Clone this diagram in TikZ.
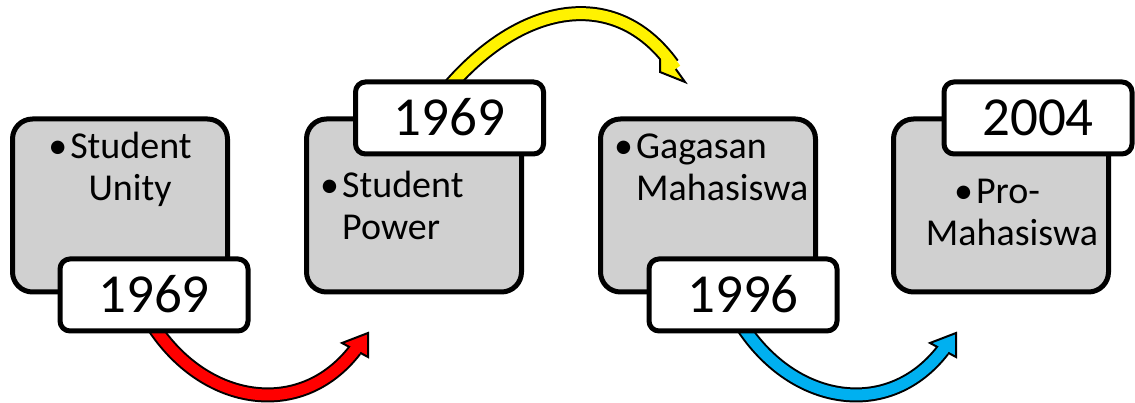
\documentclass[tikz,border=0pt]{standalone}
\usepackage{fontspec}
\setmainfont{Carlito}
\usetikzlibrary{backgrounds}

\definecolor{boxgray}{RGB}{208,208,208}
\definecolor{arrowblue}{RGB}{0,176,240}
\newcommand{\bul}{\makebox[22pt][l]{\textbullet}}

\tikzset{
  phase/.style={draw=black, line width=5pt, fill=boxgray, rounded corners=20pt,
    minimum width=215pt, minimum height=173pt},
  yearbox/.style={draw=black, line width=5pt, fill=white, rounded corners=10pt,
    minimum width=188pt, minimum height=72pt, inner sep=0pt,
    font=\fontsize{55}{60}\selectfont, text height=35pt, text depth=0pt},
  phasetext/.style={font=\fontsize{38}{42}\selectfont, inner sep=0pt, anchor=base},
  bandout/.style={line width=15pt, black},
  bandin/.style={line width=11pt, line cap=rect},
  bandhead/.style={draw=black, line width=2pt, line join=miter},
}

\begin{document}
\begin{tikzpicture}[x=1pt, y=1pt]
        \useasboundingbox (0,0) rectangle (1135,403);

        % the grey boxes
        \node[phase] (p1) at (120,197.5) {};
        \node[phase] (p2) at (414,197.5) {};
        \node[phase] (p3) at (708,197.5) {};
        \node[phase] (p4) at (1001,197.5) {};

        % the year boxes
        \node[yearbox] (y1) at (154,108) {1969};
        \node[yearbox] (y2) at (449.5,285) {1969};
        \node[yearbox] (y3) at (743,108) {1996};
        \node[yearbox] (y4) at (1038,285) {2004};

        % the texts (placed at the baseline of their last line)
        \node[phasetext, align=center] (t1) at (120,202) {\bul Student\\\hspace*{20pt}Unity};
        \node[phasetext, align=left, anchor=base west] (t2) at (320,163.5) {\bul Student\\\hspace*{22pt}Power};
        \node[phasetext, align=left, anchor=base west] (t3) at (614,202) {\bul Gagasan\\\hspace*{22pt}Mahasiswa};
        \node[phasetext, align=center] (t4) at (997,157) {\bul Pro-\\\hspace*{30pt}Mahasiswa};

        % the ends of the arrows (where the heads sit)
        \coordinate (e1) at (355,53);
        \coordinate (e2) at (672.5,338.5);
        \coordinate (e3) at (943,53);

        % draw the arrows behind the boxes
        \begin{pgfonlayer}{background}
        \draw[bandout] ([xshift=-1pt,yshift=8pt]y1.south) .. controls +(52,-80) and +(-54,-70) .. (e1);
        \filldraw[bandhead, fill=red] (e1) ++(13,17) -- ++(-26,-10) -- ++(26,-14) -- cycle;
        \draw[bandin, red] ([xshift=-1pt,yshift=8pt]y1.south) .. controls +(52,-80) and +(-54,-70) .. (e1);

        \draw[bandout] ([xshift=-3.5pt,yshift=-11pt]y2.north) .. controls +(74,88) and +(-57.5,79.5) .. (e2);
        \filldraw[bandhead, fill=yellow] (e2) ++(12.5,-17.5) -- ++(-25,10) -- ++(0,25) -- cycle;
        \draw[bandin, yellow] ([xshift=-3.5pt,yshift=-11pt]y2.north) .. controls +(74,88) and +(-57.5,79.5) .. (e2);

        \draw[bandout] ([xshift=-1pt,yshift=8pt]y3.south) .. controls +(52,-80) and +(-54,-70) .. (e3);
        \filldraw[bandhead, fill=arrowblue] (e3) ++(13,17) -- ++(-26,-10) -- ++(26,-14) -- cycle;
        \draw[bandin, arrowblue] ([xshift=-1pt,yshift=8pt]y3.south) .. controls +(52,-80) and +(-54,-70) .. (e3);
        \end{pgfonlayer}

\end{tikzpicture}
\end{document}
